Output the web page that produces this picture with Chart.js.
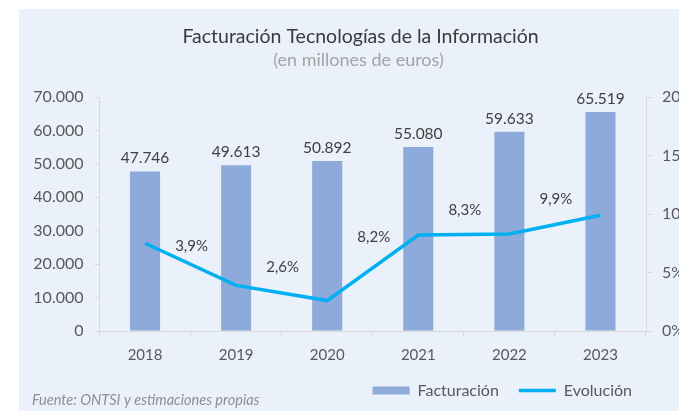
<!DOCTYPE html>
<html lang="es">
<head>
<meta charset="utf-8">
<script src="https://cdn.jsdelivr.net/npm/chart.js@4"></script>
<style>
  html, body { margin: 0; background: #fff; overflow: hidden; width: 679px; height: 411px; }
  #panel { position: absolute; left: 19px; top: 9px; width: 700px; height: 402px; background: #eaf1fa; }
</style>
</head>
<body>
<div id="panel"><canvas id="grafica" width="700" height="402"></canvas></div>
<script>
const anios = ['2018', '2019', '2020', '2021', '2022', '2023'];
const facturacion = [47746, 49613, 50892, 55080, 59633, 65519];
const evolucion = [7.5, 3.9, 2.6, 8.2, 8.3, 9.9];
const ticksFacturacion = { min: 0, max: 70000, paso: 10000 };
const ticksEvolucion = { min: 0, max: 20, paso: 5 };

const fuente = "Lato, 'Open Sans', sans-serif";
Chart.defaults.font.family = fuente;

function miles(v) {
  return String(v).replace(/\B(?=(\d{3})+(?!\d))/g, '.');
}

function pct(v) {
  return v.toFixed(1).replace('.', ',') + '%';
}

const etiquetas = {
  id: 'etiquetas',
  afterDatasetsDraw(chart, args, opts) {
    const ctx = chart.ctx;
    const barras = chart.getDatasetMeta(0).data;
    const puntos = chart.getDatasetMeta(1).data;
    ctx.save();
    ctx.fillStyle = '#404040';
    ctx.font = `15.5px ${fuente}`;
    ctx.textAlign = 'center';
    ctx.textBaseline = 'alphabetic';
    barras.forEach((b, i) => ctx.fillText(miles(facturacion[i]), b.x, b.y - 8));
    ctx.textBaseline = 'middle';
    ctx.font = `15px ${fuente}`;
    puntos.forEach((p, i) => {
      if (i === 0) return;
      const prev = puntos[i - 1];
      ctx.fillText(pct(evolucion[i]), (prev.x + p.x) / 2 + 1, (prev.y + p.y) / 2 - opts.elevar[i - 1]);
    });
    ctx.restore();
  }
};

const textos = {
  id: 'textos',
  afterLayout(chart) {
    // leyenda alineada a la derecha del área visible, no del lienzo
    chart.legend.right = 633;
  },
  afterDraw(chart) {
    const ctx = chart.ctx;
    ctx.save();
    ctx.textBaseline = 'middle';
    ctx.textAlign = 'center';
    ctx.fillStyle = '#3a3a3a';
    ctx.font = `19.5px ${fuente}`;
    ctx.fillText('Facturación Tecnologías de la Información', 341.5, 28);
    ctx.fillStyle = '#a3a3a3';
    ctx.font = `18px ${fuente}`;
    ctx.fillText('(en millones de euros)', 339.5, 51);
    ctx.textAlign = 'left';
    ctx.fillStyle = '#8f8f8f';
    ctx.font = `italic 14.5px ${fuente}`;
    ctx.fillText('Fuente: ONTSI y estimaciones propias', 13, 391);
    ctx.restore();
  }
};

new Chart(document.getElementById('grafica'), {
  data: {
    labels: anios,
    datasets: [
      {
        type: 'bar',
        label: 'Facturación',
        data: facturacion,
        backgroundColor: '#8eaadb',
        barPercentage: 0.33,
        categoryPercentage: 1,
        yAxisID: 'y',
        order: 1,
        pointStyle: 'rect',
      },
      {
        type: 'line',
        label: 'Evolución',
        data: evolucion,
        borderColor: '#00b0f0',
        backgroundColor: '#00b0f0',
        borderWidth: 3.5,
        pointRadius: 0,
        tension: 0,
        yAxisID: 'y1',
        order: 0,
        pointStyle: 'line',
      },
    ],
  },
  options: {
    responsive: false,
    animation: false,
    layout: { padding: { left: 0, right: 0, top: 88, bottom: 2.5 } },
    plugins: {
      legend: {
        position: 'bottom',
        align: 'end',
        labels: {
          usePointStyle: true,
          pointStyleWidth: 37,
          boxWidth: 37,
          boxHeight: 8,
          color: '#595959',
          font: { size: 16 },
          padding: 20,
          sort: (a, b) => a.datasetIndex - b.datasetIndex,
        },
      },
      tooltip: { enabled: false },
      etiquetas: { elevar: [18, 26, 31, 24, 25] },
    },
    scales: {
      x: {
        grid: { drawOnChartArea: false, tickLength: 6, color: '#d9d9d9', offset: true },
        border: { color: '#d9d9d9' },
        ticks: { color: '#595959', font: { size: 15 }, padding: 9 },
        afterFit: s => { s.height = 31.5; },
      },
      y: {
        position: 'left',
        min: ticksFacturacion.min,
        max: ticksFacturacion.max,
        ticks: { stepSize: ticksFacturacion.paso, color: '#595959', font: { size: 16 }, padding: 11, callback: v => miles(v) },
        grid: { drawOnChartArea: false, tickLength: 5, color: '#d9d9d9' },
        border: { color: '#d9d9d9' },
        afterFit: s => { s.width = 80.5; },
      },
      y1: {
        position: 'right',
        min: ticksEvolucion.min,
        max: ticksEvolucion.max,
        ticks: { stepSize: ticksEvolucion.paso, color: '#595959', font: { size: 16 }, padding: 10, callback: v => v + '%' },
        grid: { drawOnChartArea: false, tickLength: 6, color: '#d9d9d9' },
        border: { color: '#d9d9d9' },
        afterFit: s => { s.width = 73; },
      },
    },
  },
  plugins: [etiquetas, textos],
});
</script>
</body>
</html>
